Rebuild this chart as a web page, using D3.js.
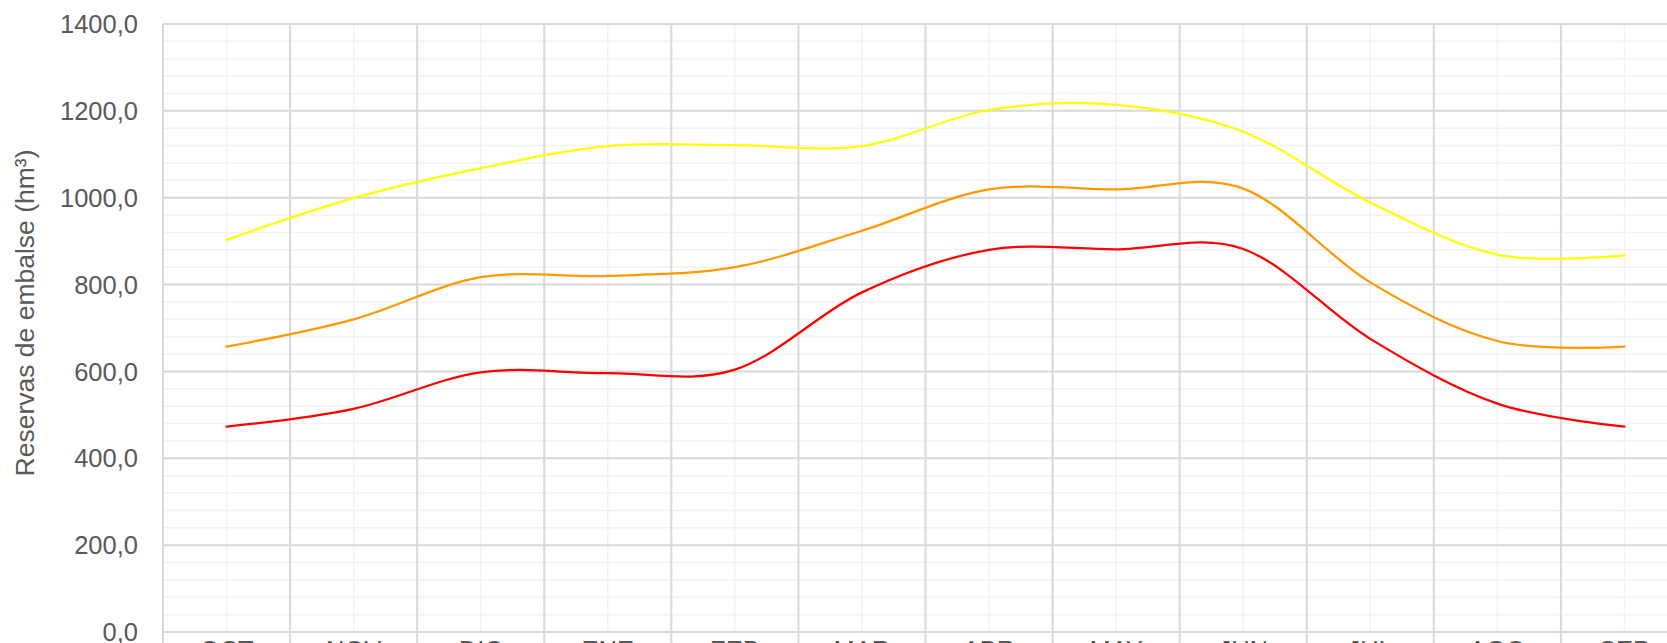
<!DOCTYPE html>
<html>
<head>
<meta charset="utf-8">
<script src="https://cdn.jsdelivr.net/npm/d3@7/dist/d3.min.js"></script>
<style>
    html, body { margin: 0; padding: 0; background: #fff; overflow: hidden; }
    svg { display: block; font-family: "Liberation Sans", Arial, sans-serif; }
</style>
</head>
<body>
<svg id="chart" width="1667" height="643"></svg>
<script>
'use strict';

/* Data */
var months = ['OCT', 'NOV', 'DIC', 'ENE', 'FEB', 'MAR', 'ABR', 'MAY', 'JUN', 'JUL', 'AGO', 'SEP'];
var reservaAlta = [903, 999, 1068, 1119, 1121, 1119, 1202, 1214, 1152, 989, 869, 867];
var reservaMedia = [657, 720, 817, 820, 840, 924, 1019, 1019, 1021, 805, 670, 657];
var reservaBaja = [473, 514, 598, 596, 604, 782, 880, 881, 882, 675, 526, 473];
var yTicks = [0, 200, 400, 600, 800, 1000, 1200, 1400];
var yTitle = 'Reservas de embalse (hm\u00b3)';

/* Set up */
var plotLeft = 163,
    plotRight = 1688, // plot runs past the picture edge
    plotTop = 24,
    plotBottom = 632,
    fontSize = 25.5,
    textColor = '#595959',
    majorGrid = '#d9d9d9',
    minorGrid = '#f2f2f2';

var x = d3.scaleBand().domain(months).range([plotLeft, plotRight]),
    y = d3.scaleLinear().domain([0, 1400]).range([plotBottom, plotTop]);

var locale = d3.formatLocale({ decimal: ',', thousands: '', grouping: [3], currency: ['', ''] }),
    fmt = locale.format('.1f');

var svg = d3.select('#chart');

// minor horizontal lines every 40
var minorY = d3.range(0, 1401, 40).filter(function(v) { return v % 200 !== 0; });
svg.append('g').selectAll('line')
    .data(minorY)
    .enter().append('line')
    .attr('x1', plotLeft).attr('x2', plotRight)
    .attr('y1', function(d) { return y(d); })
    .attr('y2', function(d) { return y(d); })
    .attr('stroke', minorGrid)
    .attr('stroke-width', 1.5);

// minor vertical lines at category centers
svg.append('g').selectAll('line')
    .data(months)
    .enter().append('line')
    .attr('x1', function(d) { return x(d) + x.bandwidth() / 2; })
    .attr('x2', function(d) { return x(d) + x.bandwidth() / 2; })
    .attr('y1', plotTop).attr('y2', plotBottom)
    .attr('stroke', minorGrid)
    .attr('stroke-width', 1.5);

// major horizontal lines
svg.append('g').selectAll('line')
    .data(yTicks)
    .enter().append('line')
    .attr('x1', plotLeft).attr('x2', plotRight)
    .attr('y1', function(d) { return y(d); })
    .attr('y2', function(d) { return y(d); })
    .attr('stroke', majorGrid)
    .attr('stroke-width', 2);

// major vertical lines at category edges, running down as ticks
var edges = months.map(function(m) { return x(m); }).concat([plotRight]);
svg.append('g').selectAll('line')
    .data(edges)
    .enter().append('line')
    .attr('x1', function(d) { return d; })
    .attr('x2', function(d) { return d; })
    .attr('y1', plotTop).attr('y2', plotBottom + 14)
    .attr('stroke', majorGrid)
    .attr('stroke-width', 2);

/* Y axis labels */
svg.append('g').selectAll('text')
    .data(yTicks)
    .enter().append('text')
    .attr('x', plotLeft - 25)
    .attr('y', function(d) { return y(d); })
    .attr('dy', '0.36em')
    .attr('text-anchor', 'end')
    .attr('fill', textColor)
    .style('font-size', fontSize + 'px')
    .text(function(d) { return fmt(d); });

svg.append('text')
    .attr('transform', 'translate(34,313) rotate(-90)')
    .attr('text-anchor', 'middle')
    .attr('fill', textColor)
    .style('font-size', '26.5px')
    .text(yTitle);

/* X axis labels */
svg.append('g').selectAll('text')
    .data(months)
    .enter().append('text')
    .attr('x', function(d) { return x(d) + x.bandwidth() / 2; })
    .attr('y', 658.5)
    .attr('text-anchor', 'middle')
    .attr('fill', textColor)
    .style('font-size', fontSize + 'px')
    .text(function(d) { return d; });

/* Lines */
var line = d3.line()
    .x(function(d, i) { return x(months[i]) + x.bandwidth() / 2; })
    .y(function(d) { return y(d); })
    .curve(d3.curveCardinal.tension(0));

var series = [
    { values: reservaAlta, color: '#ffff00' },
    { values: reservaMedia, color: '#ff9900' },
    { values: reservaBaja, color: '#ff0000' }
];

svg.append('g').selectAll('path')
    .data(series)
    .enter().append('path')
    .attr('d', function(d) { return line(d.values); })
    .attr('fill', 'none')
    .attr('stroke', function(d) { return d.color; })
    .attr('stroke-width', 2.25)
    .attr('stroke-linecap', 'round');
</script>
</body>
</html>
